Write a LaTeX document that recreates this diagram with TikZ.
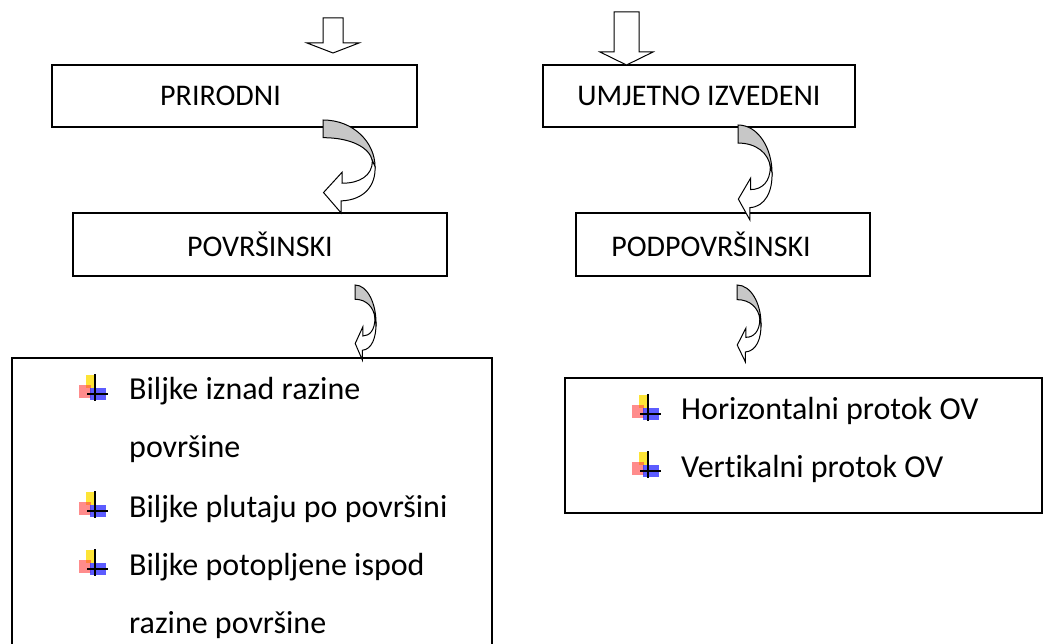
\documentclass[tikz,border=0pt]{standalone}
\usepackage{fontspec}
\setmainfont{Carlito}[Ligatures=NoCommon]

\tikzset{
  okvir/.style={draw, rectangle, line width=1.3pt, inner sep=0pt},
  naslov/.style={font=\fontsize{30}{36}\selectfont, inner sep=0pt},
  stavka/.style={font=\fontsize{32}{38}\selectfont, anchor=base west, inner sep=0pt},
  blokstr/.style={draw, line width=1pt, fill=white, line join=miter},
  pozadina/.style={draw, line width=1pt, fill=black!22},
  zakstr/.pic={
    \draw[pozadina] (0,0) .. controls (0.6,0) and (1,0.25) .. (1,0.5) -- (0.95,0.44)
      .. controls (0.9,0.3) and (0.55,0.19) .. (0,0.19) -- cycle;
    \draw[blokstr] (0.95,0.44) .. controls (0.95,0.6) and (0.7,0.68) .. (0.37,0.68)
      -- (0.37,0.56) -- (0.01,0.78) -- (0.35,1) -- (0.35,0.87)
      .. controls (0.8,0.86) and (1.02,0.7) .. (1,0.5) -- cycle;
  },
  kvad/.pic={
    \fill[yellow!80!orange, opacity=0.8] (-9,-19) rectangle (1,-6);
    \fill[red!75, opacity=0.6] (-16,-9) rectangle (-4,4);
    \fill[blue!85, opacity=0.75] (-5,-6) rectangle (11,6);
    \draw[line width=1.1pt] (0,-20) -- (0,7);
    \draw[line width=1.1pt] (-8,0) -- (13,0);
  }
}

\begin{document}
\begin{tikzpicture}[x=1pt, y=-1pt]
  \useasboundingbox (0,0) rectangle (1045,644);
  \clip (0,0) rectangle (1045,644);

  \node[okvir, minimum width=365pt, minimum height=62pt] (prir) at (234.5,96) {};
  \node[okvir, minimum width=312pt, minimum height=62pt] (umj) at (699,96) {};
  \node[okvir, minimum width=374pt, minimum height=63pt] (povr) at (260,244.5) {};
  \node[okvir, minimum width=294pt, minimum height=63pt] (podp) at (723,244.5) {};
  \node[okvir, minimum width=480pt, minimum height=300pt] (lista) at (252,508) {};
  \node[okvir, minimum width=477pt, minimum height=135pt] (tok) at (803.5,445.5) {};

  \node[naslov] (prirt) at ([xshift=-14pt]prir.center) {PRIRODNI};
  \node[naslov] (umjt) at (umj.center) {UMJETNO IZVEDENI};
  \node[naslov] (povrt) at (povr.center) {POVRŠINSKI};
  \node[naslov] (podpt) at ([xshift=-12pt]podp.center) {PODPOVRŠINSKI};

  \draw[blokstr] (323,18) -- (343,18) -- (343,43) -- (359,43) -- (333,53) -- (307,43) -- (323,43) -- cycle;
  \draw[blokstr] (614,12) -- (639,12) -- (639,52) -- (653,52) -- (626.5,65) -- (600,52) -- (614,52) -- cycle;

  \pic[xscale=52, yscale=93] at (323,120) {zakstr};
  \pic[xscale=34, yscale=95] at (738,125) {zakstr};
  \pic[xscale=21, yscale=75] at (355,285) {zakstr};
  \pic[xscale=24, yscale=77] at (737,285) {zakstr};

  \node[stavka] (b1) at (129,400) {Biljke iznad razine};
  \node[stavka] (b1a) at (129,457) {površine};
  \node[stavka] (b2) at (129,517) {Biljke plutaju po površini};
  \node[stavka] (b3) at (129,575) {Biljke potopljene ispod};
  \node[stavka] (b3a) at (129,633) {razine površine};
  \pic at (95,394) {kvad};
  \pic at (95,511) {kvad};
  \pic at (95,569) {kvad};

  \node[stavka] (h1) at (681,420) {Horizontalni protok OV};
  \node[stavka] (v1) at (681,477) {Vertikalni protok OV};
  \pic at (648,414) {kvad};
  \pic at (648,471) {kvad};
\end{tikzpicture}
\end{document}
